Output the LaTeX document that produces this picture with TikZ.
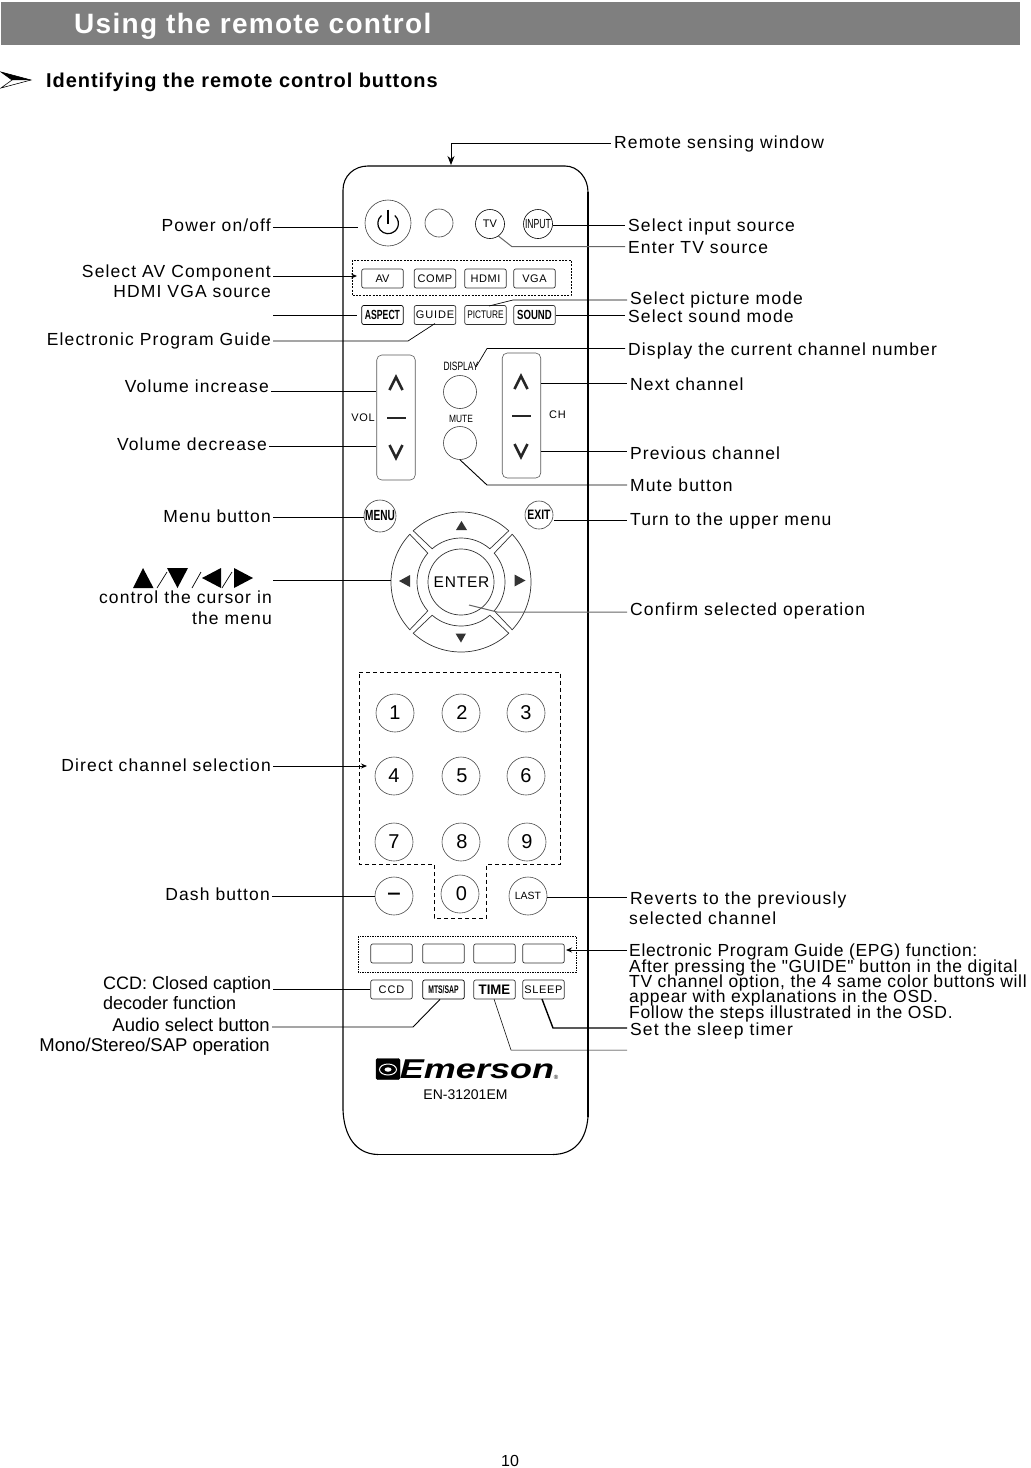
\documentclass[tikz,border=0pt]{standalone}
\usepackage{fontspec}
\usepackage{graphicx}
\setmainfont{Liberation Sans}
\newfontfamily\lblf[LetterSpace=6.4]{Liberation Sans}
\newfontfamily\plainf[LetterSpace=3.8]{Liberation Sans}
\newfontfamily\ttlf[LetterSpace=4.6,BoldFont={Liberation Sans Bold}]{Liberation Sans}
\newfontfamily\subf[LetterSpace=4.6,BoldFont={Liberation Sans Bold}]{Liberation Sans}
\usetikzlibrary{arrows.meta,calc}
\definecolor{bar}{HTML}{7F7F7F}
\newcommand\tightlines{\lineskiplimit=-30pt \lineskip=0pt\relax}
\tikzset{
  lr/.style={anchor=base west,inner xsep=3pt,inner ysep=0pt,font=\lblf\fontsize{17.5}{19}\selectfont},
  ll/.style={anchor=base east,inner xsep=2pt,inner ysep=0pt,font=\lblf\fontsize{17.5}{19}\selectfont},
  lp/.style={anchor=base west,inner xsep=2pt,inner ysep=0pt,font=\fontsize{18}{20}\selectfont},
  conn/.style={draw=black,line width=0.9pt},
  conng/.style={draw=black!60,line width=1pt},
  tip/.style={-{Stealth[length=6pt,width=5pt]}},
  bigtip/.style={-{Stealth[length=9pt,width=7pt]}},
  round/.style={circle,draw=black!75,line width=0.6pt,inner sep=0pt,minimum size=#1,font=\fontsize{11}{12}\selectfont},
  num/.style={circle,draw=black!70,line width=0.6pt,inner sep=0pt,minimum size=38pt,font=\fontsize{20}{22}\selectfont},
  key/.style={draw=black!80,line width=0.7pt,rounded corners=2pt,inner sep=0pt,minimum width=41.5pt,minimum height=19pt,font=\fontsize{11}{12}\selectfont},
  rocker/.style={draw=black!65,line width=0.6pt,rounded corners=5pt,inner sep=0pt,minimum width=38.5pt,minimum height=125pt},
  glyph/.style={line width=2.6pt,draw=black!85,miter limit=3},
  tiny/.style={inner sep=0pt,font=\fontsize{10.5}{12}\selectfont},
}
\begin{document}
\begin{tikzpicture}[x=1pt,y=-1pt]
\useasboundingbox (0,0) rectangle (1031,1468);
\fill[white] (0,0) rectangle (1031,1468);
% header
\fill[bar] (1,2) rectangle (1020,45);
\node[anchor=base west,inner sep=0pt,text=white,font=\ttlf\bfseries\fontsize{28}{30}\selectfont] (title) at (74,33) {Using the remote control};
\draw[black,line width=0.6pt,fill=white] (1,72) -- (31,80) -- (1,88) -- (12,80) -- cycle;
\fill[black] (1,72) -- (31,80) -- (12,80) -- cycle;
\node[anchor=base west,inner sep=0pt,font=\subf\bfseries\fontsize{20}{22}\selectfont] (subtitle) at (46,87) {Identifying the remote control buttons};
% body
\draw[line width=1.1pt] (343,1110) -- (343,190) .. controls (343,176) and (354,166) .. (368,166) -- (565,166);
\draw[line width=1.1pt] (565,166) .. controls (578,166) and (588,178) .. (588,192);
\draw[line width=2pt] (588,192) -- (588,1117);
\draw[line width=1.1pt] (343,1110) .. controls (344,1135) and (355,1154) .. (378,1154.5);
\draw[line width=1.8pt] (378,1154.5) -- (553,1154.5);
\draw[line width=1.1pt] (553,1154.5) .. controls (575,1154) and (586,1140) .. (588,1117);
\coordinate (window) at (451,165);
% top buttons
\node[round=46pt] (power) at (388,223) {};
\draw[line width=1.2pt] (381.5,215.5) arc[start angle=-130+0,end angle=-410,radius=10.3] ;
\draw[line width=1.2pt] (388,209.5) -- (388,223.5);
\node[round=28pt] (blank) at (439,223) {};
\node[round=29pt,draw=black] (tv) at (490,224) {TV};
\node[round=29pt,draw=black] (input) at (538,224) {\scalebox{0.72}[1.1]{\fontsize{12}{13}\selectfont INPUT}};
\draw[black,line width=0.7pt,dash pattern=on 2pt off 1.3pt] (352,260) rectangle (571,295.5);
\node[key] (av) at (382.5,278.5) {AV};
\node[key] (comp) at (435,278.5) {\addfontfeature{LetterSpace=5}COMP};
\node[key] (hdmi) at (485.5,278.5) {\addfontfeature{LetterSpace=5}HDMI};
\node[key] (vga) at (534.5,278.5) {\addfontfeature{LetterSpace=5}VGA};
\node[key,draw=black] (aspect) at (382.5,315) {\scalebox{0.72}[1.1]{\bfseries\fontsize{12}{13}\selectfont ASPECT}};
\node[key] (guide) at (435,315) {\addfontfeature{LetterSpace=8}GUIDE};
\node[key] (picture) at (485.5,315) {\scalebox{0.75}[1]{PICTURE}};
\node[key] (sound) at (534.5,315) {\scalebox{0.8}[1.1]{\bfseries\fontsize{12}{13}\selectfont SOUND}};
% rockers
\node[rocker] (vol) at (396,417.5) {};
\node[rocker] (ch) at (521.5,415.5) {};
\draw[glyph] (389.5,390) -- (396,377) -- (402.5,390);
\draw[glyph,line width=1.5pt] (387,418) -- (406,418);
\draw[glyph] (389.5,445) -- (396,458) -- (402.5,445);
\draw[glyph] (514.5,389) -- (521,376) -- (527.5,389);
\draw[glyph,line width=1.2pt] (512,416) -- (531,416);
\draw[glyph] (514.5,444) -- (521,457) -- (527.5,444);
\node[tiny,font=\lblf\fontsize{11}{12}\selectfont] (vollbl) at (363,418) {VOL};
\node[tiny,font=\lblf\fontsize{11}{12}\selectfont] (chlbl) at (557.5,415) {CH};
\node[tiny] (displaylbl) at (461,366) {\scalebox{0.8}[1.15]{DISPLAY}};
\node[tiny] (mutelbl) at (461,419) {\scalebox{0.8}[1]{MUTE}};
\node[round=33pt] (display) at (460,392) {};
\node[round=33pt] (mute) at (460,443) {};
\node[round=32pt] (menu) at (380,516) {\scalebox{0.72}[1.05]{\bfseries\fontsize{14}{15}\selectfont MENU}};
\node[round=28pt] (exit) at (539,515) {\scalebox{0.8}[1.05]{\bfseries\fontsize{13}{14}\selectfont EXIT}};
% nav pad
\coordinate (pad) at (461,582);
\foreach \r in {0,90,180,270}{
  \draw[black!80,line width=0.7pt,rotate around={\r:(pad)}]
    ($(pad)+(47:70)$) arc[start angle=47,end angle=133,radius=70]
    -- ($(pad)+(131:44)$) arc[start angle=131,end angle=49,radius=44] -- cycle;
}
\fill[black!80] (461.5,521) -- (467,530) -- (456,530) -- cycle;
\fill[black!80] (461,642.5) -- (466,633.5) -- (455.5,633.5) -- cycle;
\fill[black!80] (399,581) -- (410,575) -- (410,587) -- cycle;
\fill[black!80] (525.5,580.5) -- (514.5,574.5) -- (514.5,586.5) -- cycle;
\node[circle,draw=black!80,line width=0.7pt,inner sep=0pt,minimum size=66pt,font=\addfontfeature{LetterSpace=5}\fontsize{15.5}{18}\selectfont] (enter) at (461,582) {\raisebox{-4pt}{\hspace{1pt}ENTER}};
% number block
\draw[black,line width=0.6pt,dash pattern=on 4pt off 3pt] (359,672) -- (560.5,672) -- (560.5,864) -- (486.5,864) -- (486.5,918) -- (434,918) -- (434,864) -- (359,864) -- cycle;
\node[num] (n1) at (395,713) {1};
\node[num] (n2) at (461,713) {\hspace{2pt}2};
\node[num] (n3) at (526,713) {3};
\node[num] (n4) at (394,776) {4};
\node[num] (n5) at (461,776) {\hspace{2pt}5};
\node[num] (n6) at (526,776) {6};
\node[num] (n7) at (394,842) {7};
\node[num] (n8) at (461,842) {\hspace{2pt}8};
\node[num] (n9) at (527,842) {9};
\node[num] (dash) at (394,896) {\raisebox{-3.5pt}{\scalebox{1.2}[1]{\textbf{--}}}};
\node[num] (n0) at (460,894) {\hspace{3pt}0};
\node[num,font=\fontsize{10.5}{12}\selectfont] (last) at (528,896) {LAST};
% colour keys
\draw[black,line width=0.7pt,dash pattern=on 1.5pt off 1pt] (358,936) rectangle (576,972);
\node[key] (c1) at (391.5,953.5) {};
\node[key] (c2) at (443.5,953.5) {};
\node[key] (c3) at (494.5,953.5) {};
\node[key] (c4) at (543.5,953.5) {};
\node[key] (ccd) at (391.5,989.5) {\addfontfeature{LetterSpace=8}CCD};
\node[key,draw=black] (mts) at (443.5,989.5) {\scalebox{0.62}[1]{\bfseries MTS/SAP}};
\node[key] (time) at (494.5,989.5) {\scalebox{1.1}[1.15]{\bfseries\fontsize{12}{13}\selectfont TIME}};
\node[key] (sleep) at (543.5,989.5) {\addfontfeature{LetterSpace=6}SLEEP};
% logo
\node[draw=black,fill=black,rounded corners=1.5pt,minimum width=24pt,minimum height=21pt,inner sep=0pt] (logobox) at (388,1069) {};
\draw[white,line width=1pt] (388,1069.5) ellipse[x radius=8.5,y radius=5.5];
\fill[white] (388,1069.5) ellipse[x radius=3.5,y radius=2.2];
\node[inner sep=0pt] (emerson) at (477,1069) {\scalebox{2.25}[1.7]{\bfseries\itshape\fontsize{16}{18}\selectfont Emerson}};
\node[inner sep=0pt,font=\fontsize{6}{7}\selectfont] (reg) at (556,1077) {\textregistered};
\node[inner sep=0pt,font=\fontsize{14}{16}\selectfont] (model) at (465.5,1095) {EN-31201EM};
% left labels
\node[ll] (lpower) at (273,231) {Power on/off};
\node[ll] (lav) at (273,277) {Select AV Component};
\node[ll] (lav2) at (273,297) {HDMI VGA source};
\node[ll] (lepg) at (273,345) {Electronic Program Guide};
\node[ll] (lvi) at (271,392) {Volume increase};
\node[ll] (lvd) at (269,450) {Volume decrease};
\node[ll] (lmenu) at (273,522) {Menu button};
\node[inner sep=0pt,minimum width=140pt,minimum height=21pt] (ltri) at (203,578) {};
\fill (133,588) -- (143,568) -- (153.5,588) -- cycle;
\fill (167,568) -- (188,568) -- (177.5,588) -- cycle;
\fill (202,578) -- (221,568) -- (221,588) -- cycle;
\fill (253,578) -- (234,568) -- (234,588) -- cycle;
\draw[line width=0.7pt] (157,588) -- (167,572) (192,588) -- (201,572) (222,588) -- (232,572);
\node[ll] (lcur) at (274,603) {control the cursor in};
\node[ll] (lcur2) at (274,624) {the menu};
\node[ll] (ldir) at (273,771) {Direct channel selection};
\node[ll] (ldash) at (272,900) {Dash button};
\node[lp] (lccd) at (101,989) {CCD: Closed caption};
\node[lp] (lccd2) at (101,1009) {decoder function};
\node[ll,font=\fontsize{18.5}{20}\selectfont] (laud) at (272,1031) {Audio select button};
\node[ll,font=\fontsize{18.5}{20}\selectfont] (laud2) at (272,1051) {Mono/Stereo/SAP operation};
% right labels
\node[lr] (lrem) at (611,148) {Remote sensing window};
\node[lr] (lin) at (625,231) {Select input source};
\node[lr] (ltv) at (625,253) {Enter TV source};
\node[lr] (lpic) at (627,304) {Select picture mode};
\node[lr] (lsnd) at (625,322) {Select sound mode};
\node[lr] (ldsp) at (625,355) {Display the current channel number};
\node[lr] (lnxt) at (627,390) {Next channel};
\node[lr] (lprv) at (627,459) {Previous channel};
\node[lr] (lmut) at (627,491) {Mute button};
\node[lr] (lup) at (627,525) {Turn to the upper menu};
\node[lr] (lcnf) at (627,615) {Confirm selected operation};
\node[lr] (lrev) at (627,904) {Reverts to the previously};
\node[lr] (lrev2) at (626,924) {selected channel};
\node[anchor=north west,inner xsep=2pt,inner ysep=0pt,align=left,font=\plainf\fontsize{17.5}{15.3}\selectfont\tightlines] (lguide) at (627,944) {Electronic Program Guide (EPG) function:\\After pressing the "GUIDE" button in the digital\\TV channel option, the 4 same color buttons will\\appear with explanations in the OSD.\\Follow the steps illustrated in the OSD.};
\node[lr] (lslp) at (627,1035) {Set the sleep timer};
\node[inner sep=0pt,font=\fontsize{16}{18}\selectfont] (pageno) at (510,1461) {10};
\coordinate (ltimeend) at (627,1050);
% connectors
\draw[conn,bigtip] (lrem.west |- 0,143) -- (451,143) -- (window);
\draw[conn,shorten >=7pt] (lpower.east |- 0,227) -- (power.west |- 0,227);
\draw[conn] (input.east |- 0,225) -- (lin.west |- 0,225);
\draw[conng] (tv.-55) -- (512,246.7) -- (ltv.west |- 0,246.7);
\draw[conn,tip] (lav.east |- 0,276) -- (357,276);
\draw[conn,shorten >=4pt] (lav.east |- 0,315) -- (aspect.west |- 0,315);
\draw[conn,line width=0.7pt] (489,306) -- (513,300) -- (lpic.west |- 0,300);
\draw[conn] (sound.east |- 0,315) -- (lsnd.west |- 0,315);
\draw[conn,line width=0.7pt] (435,323.5) -- (408,341) -- (lepg.east |- 0,341);
\draw[conn,line width=0.7pt] (476,367) -- (487,348.5) -- (ldsp.west |- 0,348.5);
\draw[conn] (ch.east |- 0,383) -- (lnxt.west |- 0,383);
\draw[conn] (ch.east |- 0,451) -- (lprv.west |- 0,451);
\draw[conn] (mute.south) -- (487,485) -- (lmut.west |- 0,485);
\draw[conn] (lvi.east |- 0,391) -- (vol.west |- 0,391);
\draw[conn] (lvd.east |- 0,446) -- (vol.west |- 0,446);
\draw[conn] (lmenu.east |- 0,517) -- (menu.west |- 0,517);
\draw[conn,shorten <=1pt] (exit.east |- 0,520) -- (lup.west |- 0,520);
\draw[conn] (ltri.east |- 0,580) -- (391,580);
\draw[conng] (469,605) -- (497,612) -- (lcnf.west |- 0,612);
\draw[conn,tip] (ldir.east |- 0,766) -- (367,766);
\draw[conn] (ldash.east |- 0,896) -- (dash.west |- 0,896);
\draw[conn] (last.east |- 0,897) -- (lrev.west |- 0,897);
\draw[conn,tip] (lguide.west |- 0,950) -- (566,950);
\draw[conn,line width=0.7pt] (lccd.east |- 0,989) -- (ccd.west |- 0,989);
\draw[conn] ($(mts.south)+(-3.5,0)$) -- (413,1027) -- (laud.east |- 0,1027);
\draw[conn,line width=0.5pt] (494,999) -- (511,1050) -- (ltimeend);
\draw[conn,line width=1.4pt] (542,999) -- (553,1028) -- (lslp.west |- 0,1028);
\end{tikzpicture}
\end{document}
